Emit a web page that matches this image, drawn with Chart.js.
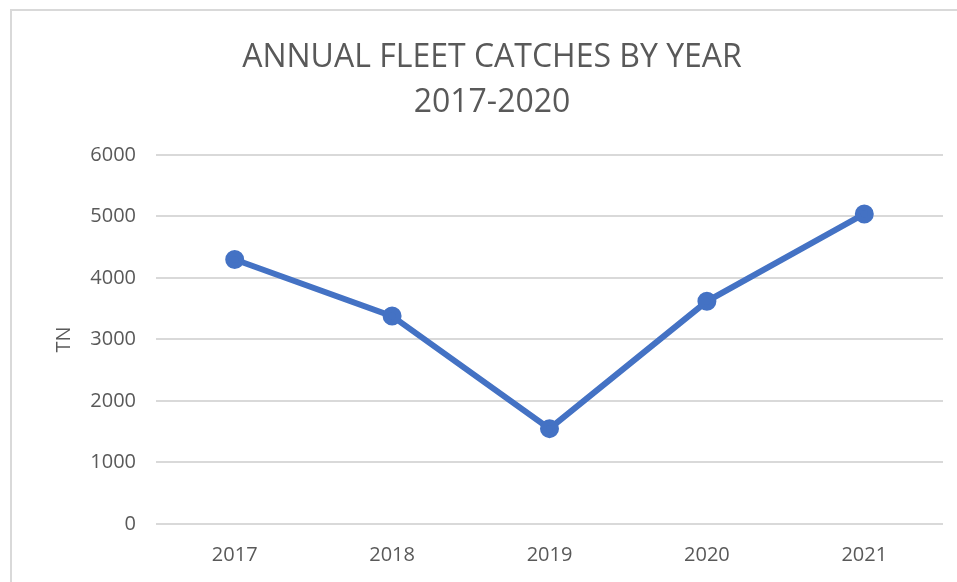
<!DOCTYPE html>
<html>
<head>
<meta charset="utf-8">
<script src="https://cdn.jsdelivr.net/npm/chart.js@4"></script>
<style>
    html, body {
        margin: 0;
        padding: 0;
        background: #ffffff;
        overflow: hidden;
    }
    #frame {
        position: absolute;
        left: 10px;
        top: 9px;
        width: 1000px;
        height: 700px;
        border-left: 2px solid #d9d9d9;
        border-top: 2px solid #d9d9d9;
    }
    #wrap {
        position: absolute;
        left: 0;
        top: 0;
        width: 957px;
        height: 582px;
    }
</style>
</head>
<body>
<div id="frame"></div>
<div id="wrap"><canvas id="chartCatches"></canvas></div>
<script>
const years = ["2017", "2018", "2019", "2020", "2021"];
const catches = [4300, 3380, 1550, 3620, 5040];
const titleLines = ["ANNUAL FLEET CATCHES BY YEAR", "2017-2020"];
const yTitle = "TN";

const textColor = "#595959";
const gridColor = "#d9d9d9";
const fontFamily = "'Open Sans', 'Noto Sans', sans-serif";

let chartCatches = new Chart(

    document.getElementById("chartCatches"),

    {
        type: "line",

        data: {
            labels: years,
            datasets: [{
                label: "Catches",
                data: catches,
                borderColor: "#4472c4",
                backgroundColor: "#4472c4",
                borderWidth: 6,
                pointRadius: 6.5,
                pointHoverRadius: 6.5,
                tension: 0
            }]
        },

        options: {
            responsive: true,
            maintainAspectRatio: false,
            animation: false,

            layout: {
                padding: { left: 41, right: 14, top: 35, bottom: 0 }
            },

            plugins: {
                legend: { display: false },
                tooltip: { enabled: false },
                title: {
                    display: true,
                    text: titleLines,
                    color: textColor,
                    font: { family: fontFamily, size: 32, weight: "normal", lineHeight: 1.42 },
                    padding: { top: 0, bottom: 29 }
                }
            },

            scales: {
                x: {
                    offset: true,
                    grid: { display: false, drawTicks: false },
                    border: { display: false },
                    ticks: {
                        color: textColor,
                        padding: 19,
                        font: { family: fontFamily, size: 20 }
                    },
                    afterFit: scale => { scale.height = 58; }
                },
                y: {
                    min: 0,
                    max: 6000,
                    ticks: {
                        stepSize: 1000,
                        color: textColor,
                        padding: 20,
                        font: { family: fontFamily, size: 20 },
                        callback: value => String(value)
                    },
                    grid: { color: gridColor, lineWidth: 2, drawTicks: false },
                    border: { display: false },
                    title: {
                        display: true,
                        text: yTitle,
                        color: textColor,
                        font: { family: fontFamily, size: 20 },
                        padding: { top: 11, bottom: 0 }
                    },
                    afterFit: scale => { scale.width = 115; }
                }
            }
        }
    }
);
</script>
</body>
</html>
